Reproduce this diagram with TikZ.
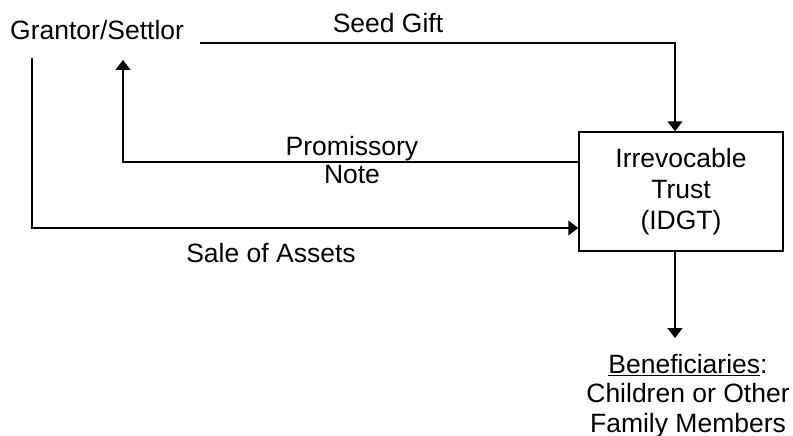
\documentclass[tikz,border=0pt]{standalone}
\usepackage{fontspec}
\setmainfont{Liberation Sans}
\usetikzlibrary{arrows.meta}
\begin{document}
\begin{tikzpicture}[x=1pt,y=-1pt,
  font=\fontsize{26.5}{31}\selectfont,
  lbl/.style={inner sep=0pt, anchor=base},
  wire/.style={line width=1.5pt},
  conn/.style={wire, -{Triangle[width=15pt,length=10pt]}},
  box/.style={draw, line width=1.5pt, minimum width=204pt, minimum height=119pt, inner sep=0pt, align=center}]
\useasboundingbox (0,0) rectangle (793,436);
% nodes
\node[lbl, anchor=base west] (grantor) at (10,40) {Grantor/Settlor};
\node[box] (trust) at (681,191.5) {Irrevocable\\Trust\\(IDGT)};
\node[inner sep=0pt, anchor=north, align=center, font=\fontsize{26.5}{29.5}\selectfont] (benef) at (688,354) {\underline{Beneficiaries}:\\Children or Other\\Family Members};
% labels
\node[lbl] (seed) at (388,33) {Seed Gift};
\node[lbl] (prom) at (352,155) {Promissory};
\node[lbl] (note) at (352,183) {Note};
\node[lbl] (sale) at (271,262) {Sale of Assets};
% helper coordinates
\coordinate (gs) at (200,43);
\coordinate (tx) at (675,0);
\coordinate (py) at (0,162);
\coordinate (pend) at (123,60);
\coordinate (sstart) at (32,58);
\coordinate (sy) at (0,228);
\coordinate (btip) at (675,338);
% connectors
\draw[conn] (gs) -| (tx |- trust.north);
\draw[conn] (trust.west |- py) -| (pend);
\draw[conn] (sstart) |- (trust.west |- sy);
\draw[conn] (tx |- trust.south) -- (btip);
\end{tikzpicture}
\end{document}
